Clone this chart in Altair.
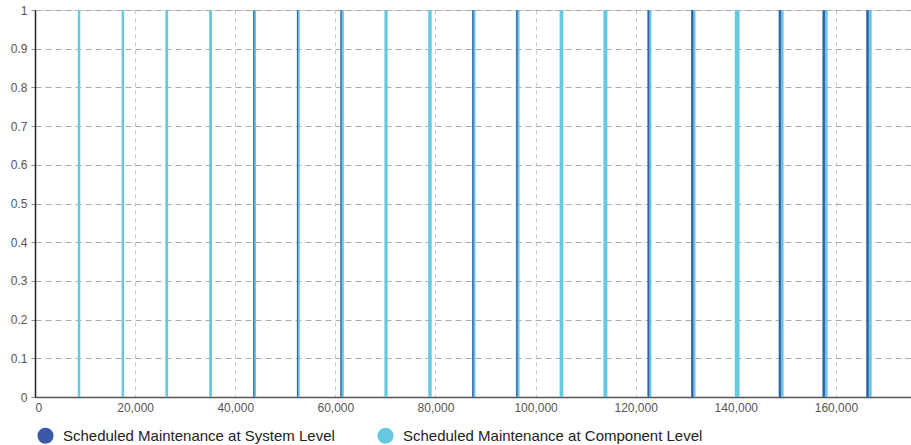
import altair as alt
import pandas as pd

# Scheduled maintenance events (operating hours): start and duration
comp_start = [8550, 17300, 26050, 34800, 43550, 52300, 61050, 69800, 78550, 87300,
              96050, 104800, 113550, 122300, 131050, 139800, 148550, 157300, 166050]
comp_dur = [500, 500, 550, 550, 600, 600, 650, 650, 700, 700,
            750, 750, 800, 850, 900, 950, 1000, 1050, 1100]

sys_start = [43600, 52350, 61000, 87350, 96150, 122400, 131100, 148600, 157350, 166100]
sys_dur = [200, 200, 250, 250, 250, 300, 400, 400, 450, 450]

SYS = "Scheduled Maintenance at System Level"
COMP = "Scheduled Maintenance at Component Level"

comp_df = pd.DataFrame({
    "start": comp_start,
    "end": [s + d for s, d in zip(comp_start, comp_dur)],
    "lo": 0.0, "hi": 1.0, "series": COMP,
})
sys_df = pd.DataFrame({
    "start": sys_start,
    "end": [s + d for s, d in zip(sys_start, sys_dur)],
    "lo": 0.0, "hi": 1.0, "series": SYS,
})

color = alt.Color(
    "series:N",
    scale=alt.Scale(domain=[SYS, COMP], range=["#3a5aa8", "#66c9df"]),
    legend=alt.Legend(
        title=None, orient="none", direction="horizontal",
        legendX=2, legendY=417, symbolType="circle", symbolSize=260,
        symbolStrokeWidth=0, labelFontSize=15, labelColor="#222222",
        labelFont="Liberation Sans", labelLimit=400, columnPadding=42,
        labelOffset=9, symbolOpacity=1,
    ),
)

x_axis = alt.Axis(
    title=None, values=[0, 20000, 40000, 60000, 80000, 100000, 120000, 140000, 160000],
    format=",d", labelFontSize=12, labelColor="#555555", labelFont="Liberation Sans",
    grid=True, gridDash=[4, 4], gridColor="#c8c8c8", gridWidth=1,
    domainColor="#555555", domainWidth=1.5, ticks=False, labelPadding=5,
)
y_axis = alt.Axis(
    title=None, values=[0, 0.1, 0.2, 0.3, 0.4, 0.5, 0.6, 0.7, 0.8, 0.9, 1],
    format="~g", labelFontSize=12, labelColor="#555555", labelFont="Liberation Sans",
    grid=True, gridDash=[6, 4], gridColor="#aaaaaa", gridWidth=1,
    domainColor="#222222", domainWidth=1.5, ticks=True, tickSize=4,
    tickColor="#888888", labelPadding=4, labelOverlap=False,
)
x_scale = alt.Scale(domain=[0, 175000], nice=False, zero=True)
y_scale = alt.Scale(domain=[0, 1], nice=False)

def layer(df):
    return alt.Chart(df).mark_rect(opacity=1).encode(
        x=alt.X("start:Q", scale=x_scale, axis=x_axis),
        x2="end:Q",
        y=alt.Y("lo:Q", scale=y_scale, axis=y_axis),
        y2="hi:Q",
        color=color,
    )

chart = alt.layer(layer(comp_df), layer(sys_df)).properties(
    width=876, height=387,
    autosize=alt.AutoSizeParams(type="none"),
    padding={"left": 35, "top": 10, "right": 0, "bottom": 48},
).configure_view(stroke=None).configure(background="white")

chart.save("out.html", embed_options={"renderer": "svg", "actions": False})
